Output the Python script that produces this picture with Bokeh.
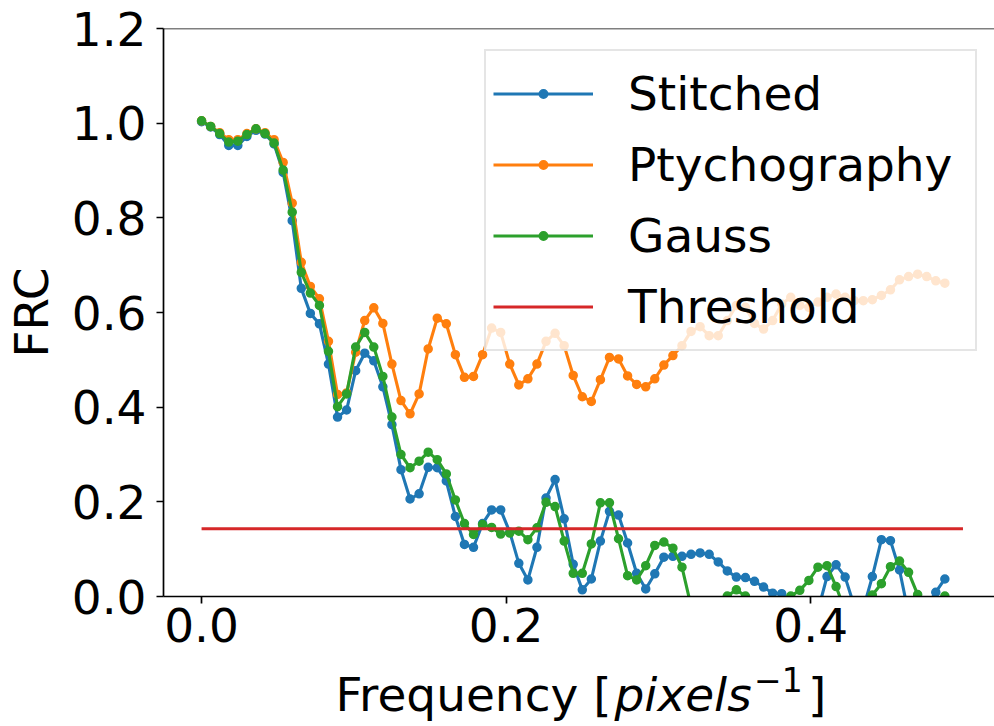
from bokeh.plotting import figure
from bokeh.layouts import column
from bokeh.models import (Range1d, FixedTicker, NumeralTickFormatter, Span,
                          Legend, LegendItem)
from bokeh.core.properties import value
from bokeh.embed import file_html
from bokeh.resources import INLINE

# Fourier ring correlation curves, one value per frequency bin (bin width 1/168 px^-1)
bins = list(range(83))
frequency = [k / 168 for k in bins]

stitched = [
    1.003, 0.992, 0.976, 0.953, 0.953, 0.972, 0.985, 0.977, 0.956, 0.896,
    0.794, 0.651, 0.598, 0.576, 0.491, 0.379, 0.394, 0.477, 0.514, 0.498,
    0.443, 0.363, 0.268, 0.206, 0.217, 0.273, 0.272, 0.244, 0.169, 0.110,
    0.104, 0.154, 0.183, 0.183, 0.136, 0.070, 0.035, 0.104, 0.208, 0.247,
    0.164, 0.068, 0.014, 0.037, 0.117, 0.180, 0.172, 0.113, 0.049, 0.016,
    0.048, 0.083, 0.085, 0.085, 0.089, 0.092, 0.089, 0.073, 0.054, 0.041,
    0.040, 0.032, 0.020, 0.007, 0.006, -0.030, -0.060, -0.050, -0.030, 0.042,
    0.067, 0.041, -0.020, -0.026, 0.042, 0.120, 0.118, 0.056, -0.037, -0.060,
    -0.020, 0.009, 0.037,
]

ptychography = [
    1.005, 0.993, 0.980, 0.965, 0.965, 0.978, 0.988, 0.980, 0.965, 0.917,
    0.831, 0.706, 0.655, 0.629, 0.539, 0.427, 0.430, 0.516, 0.583, 0.610,
    0.577, 0.491, 0.414, 0.386, 0.428, 0.523, 0.588, 0.576, 0.511, 0.463,
    0.465, 0.511, 0.567, 0.558, 0.491, 0.447, 0.460, 0.491, 0.539, 0.556,
    0.530, 0.467, 0.422, 0.412, 0.458, 0.505, 0.502, 0.466, 0.448, 0.443,
    0.460, 0.489, 0.509, 0.530, 0.560, 0.570, 0.551, 0.551, 0.583, 0.615,
    0.611, 0.577, 0.565, 0.583, 0.618, 0.632, 0.615, 0.611, 0.622, 0.632,
    0.639, 0.632, 0.625, 0.625, 0.627, 0.636, 0.648, 0.669, 0.676, 0.681,
    0.676, 0.667, 0.662,
]

gauss = [
    1.005, 0.993, 0.978, 0.960, 0.962, 0.976, 0.988, 0.978, 0.958, 0.901,
    0.812, 0.685, 0.641, 0.615, 0.518, 0.401, 0.428, 0.527, 0.558, 0.527,
    0.465, 0.379, 0.300, 0.272, 0.286, 0.305, 0.289, 0.259, 0.204, 0.154,
    0.131, 0.152, 0.146, 0.132, 0.134, 0.138, 0.120, 0.145, 0.199, 0.190,
    0.117, 0.049, 0.049, 0.111, 0.198, 0.198, 0.122, 0.044, 0.035, 0.065,
    0.108, 0.115, 0.102, 0.062, -0.020, -0.050, -0.030, -0.010, 0.001, 0.014,
    0.001, -0.030, -0.050, -0.040, -0.020, 0.001, 0.013, 0.034, 0.062, 0.065,
    0.021, -0.030, -0.040, -0.020, 0.003, 0.027, 0.063, 0.075, 0.051, 0.004,
    -0.030, -0.020, 0.001,
]

threshold_freq = [0.0, 0.5]
threshold_frc = [0.143, 0.143]

x_ticks = [0.0, 0.2, 0.4]
y_ticks = [0.0, 0.2, 0.4, 0.6, 0.8, 1.0, 1.2]

FONT = "DejaVu Sans"
FS = "47px"
BLUE, ORANGE, GREEN, RED = "#1f77b4", "#ff7f0e", "#2ca02c", "#d62728"

# ---- main axes ----
p = figure(width=994, height=662, output_backend="svg", toolbar_location=None,
           x_range=Range1d(-0.025, 0.5207), y_range=Range1d(0.0, 1.2),
           min_border_left=159, min_border_right=0, min_border_top=28,
           min_border_bottom=66, frame_align=False, title_location=None)
p.background_fill_color = "white"
p.border_fill_color = "white"
p.outline_line_color = None
p.xgrid.visible = False
p.ygrid.visible = False

for ax in (p.xaxis[0], p.yaxis[0]):
    ax.axis_line_width = 1.7
    ax.major_tick_line_width = 1.7
    ax.major_tick_out = 7
    ax.major_tick_in = 0
    ax.minor_tick_line_color = None
    ax.major_label_text_font = FONT
    ax.major_label_text_font_size = FS
    ax.major_label_text_color = "black"
    ax.axis_line_color = "black"
    ax.major_tick_line_color = "black"
    ax.formatter = NumeralTickFormatter(format="0.0")

p.xaxis.ticker = FixedTicker(ticks=x_ticks)
p.yaxis.ticker = FixedTicker(ticks=y_ticks)
p.xaxis.major_label_standoff = 4
p.yaxis.major_label_standoff = 10

p.yaxis.axis_label = "FRC"
p.yaxis.axis_label_text_font = FONT
p.yaxis.axis_label_text_font_size = FS
p.yaxis.axis_label_text_font_style = "normal"
p.yaxis.axis_label_text_color = "black"
p.yaxis.axis_label_standoff = 10

# top spine
p.add_layout(Span(location=1.2, dimension="width", line_color="black", line_width=1.7))

items = []
for name, vals, col in (("Stitched", stitched, BLUE),
                        ("Ptychography", ptychography, ORANGE),
                        ("Gauss", gauss, GREEN)):
    lr = p.line(frequency, vals, line_color=col, line_width=3.1)
    sr = p.scatter(frequency, vals, size=8, fill_color=col, line_color=col, line_width=1.5)
    items.append(LegendItem(label=name, renderers=[lr, sr]))

tr = p.line(threshold_freq, threshold_frc, line_color=RED, line_width=3.1)
items.append(LegendItem(label="Threshold", renderers=[tr]))

legend = Legend(items=items, location=(321, 245),
                glyph_width=100, glyph_height=21, label_height=71, label_width=340,
                label_standoff=35, spacing=0, padding=7, margin=0,
                label_text_font=FONT, label_text_font_size=FS,
                label_text_color="black",
                border_line_color="#cccccc", border_line_width=2,
                background_fill_color="white", background_fill_alpha=0.8)
p.add_layout(legend)

# ---- strip below the axes holding the x axis title ----
t = figure(width=994, height=64, output_backend="svg", toolbar_location=None,
           x_range=Range1d(0, 994), y_range=Range1d(0, 64),
           x_axis_location=None, y_axis_location=None, min_border=0,
           frame_align=False, title_location=None)
t.background_fill_color = "white"
t.border_fill_color = "white"
t.outline_line_color = None
t.xgrid.visible = False
t.ygrid.visible = False

common = dict(text_font=value(FONT), text_color="black",
              text_baseline="alphabetic", text_align="left")
t.text(x=[335, 807.5], y=[32, 32], text=["Frequency [", "]"],
       text_font_size=value(FS), text_font_style="normal", **common)
t.text(x=[614], y=[32], text=["pixels"],
       text_font_size=value(FS), text_font_style="italic", **common)
t.text(x=[753.6], y=[47], text=["\u22121"],
       text_font_size=value("33px"), text_font_style="normal", **common)

layout = column(p, t, spacing=0)
open("out.html", "w").write(file_html(layout, INLINE))
